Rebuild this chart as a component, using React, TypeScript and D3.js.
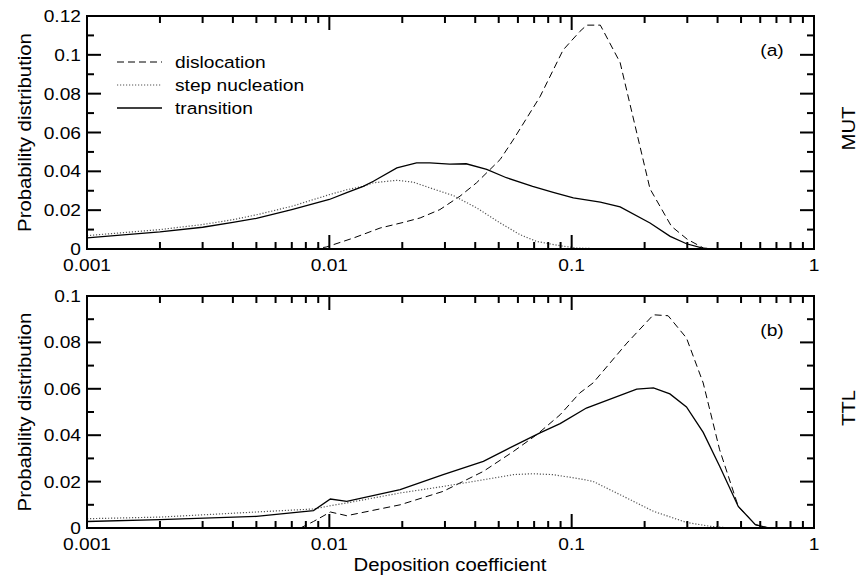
import * as d3 from 'd3';

// MUT panel (a): [deposition coefficient, probability]
const mutDislocation: [number, number][] = [
  [0.0085, 0], [0.0097, 0.001], [0.0126, 0.0057], [0.0162, 0.0108], [0.0202, 0.0137],
  [0.0237, 0.016], [0.0286, 0.0203], [0.0346, 0.0272], [0.0405, 0.0341], [0.0507, 0.0461],
  [0.0573, 0.0561], [0.074, 0.0784], [0.0922, 0.1025], [0.108, 0.112], [0.1154, 0.1153],
  [0.1313, 0.1153], [0.1585, 0.096], [0.2105, 0.031], [0.258, 0.0117], [0.3, 0.005],
  [0.35, 0.0005], [0.4, 0],
];
const mutStep: [number, number][] = [
  [0.001, 0.0069], [0.002, 0.01], [0.003, 0.0126], [0.004, 0.0151], [0.005, 0.0176],
  [0.007, 0.022], [0.01, 0.028], [0.0118, 0.0305], [0.0138, 0.0323], [0.0152, 0.0341],
  [0.019, 0.0354], [0.0222, 0.0344], [0.026, 0.0315], [0.0325, 0.0275], [0.0405, 0.0212],
  [0.0507, 0.0134], [0.0612, 0.0074], [0.0717, 0.0039], [0.0893, 0.0017], [0.105, 0.0005],
  [0.13, 0.0001], [0.15, 0],
];
const mutTransition: [number, number][] = [
  [0.001, 0.0057], [0.002, 0.0088], [0.003, 0.0112], [0.004, 0.0137], [0.005, 0.0158],
  [0.007, 0.0203], [0.01, 0.0255], [0.0118, 0.029], [0.0138, 0.0323], [0.0152, 0.0349],
  [0.019, 0.0418], [0.0229, 0.0444], [0.026, 0.0444], [0.0314, 0.0437], [0.0367, 0.0439],
  [0.0446, 0.041], [0.0538, 0.0367], [0.069, 0.0323], [0.0839, 0.0292], [0.1016, 0.0263],
  [0.1313, 0.0241], [0.1585, 0.0217], [0.2105, 0.0134], [0.255, 0.0065], [0.2977, 0.0027],
  [0.35, 0.0003], [0.4, 0],
];

// TTL panel (b)
const ttlDislocation: [number, number][] = [
  [0.0076, 0], [0.0086, 0.0028], [0.0101, 0.0069], [0.0118, 0.0053], [0.0196, 0.01],
  [0.0295, 0.0158], [0.0432, 0.0244], [0.0575, 0.033], [0.0717, 0.0402], [0.0896, 0.0488],
  [0.108, 0.0582], [0.1225, 0.0625], [0.169, 0.0797], [0.2175, 0.0919], [0.25, 0.0915],
  [0.2977, 0.0819], [0.349, 0.0625], [0.408, 0.0337], [0.487, 0.0093], [0.573, 0.0014],
  [0.65, 0],
];
const ttlStep: [number, number][] = [
  [0.001, 0.004], [0.002, 0.0047], [0.005, 0.0069], [0.0086, 0.0082], [0.0101, 0.0096],
  [0.0118, 0.0108], [0.0196, 0.0151], [0.0295, 0.0179], [0.0432, 0.0208], [0.0575, 0.023],
  [0.069, 0.0234], [0.0839, 0.023], [0.108, 0.0212], [0.1225, 0.0201], [0.169, 0.0129],
  [0.2175, 0.0072], [0.2977, 0.0024], [0.375, 0.0007], [0.45, 0],
];
const ttlTransition: [number, number][] = [
  [0.001, 0.0028], [0.002, 0.0036], [0.005, 0.005], [0.0086, 0.0075], [0.0101, 0.0125],
  [0.0118, 0.0115], [0.0196, 0.0165], [0.0295, 0.023], [0.0432, 0.0287], [0.0538, 0.0338],
  [0.074, 0.041], [0.0896, 0.045], [0.115, 0.0517], [0.1855, 0.0599], [0.2175, 0.0604],
  [0.2543, 0.0578], [0.2977, 0.0522], [0.349, 0.0412], [0.408, 0.0266], [0.487, 0.0093],
  [0.573, 0.0014], [0.65, 0],
];

const xTickValues = [0.001, 0.01, 0.1, 1];
const xTickLabels = ['0.001', '0.01', '0.1', '1'];
const mutYTicks = [0, 0.02, 0.04, 0.06, 0.08, 0.1, 0.12];
const ttlYTicks = [0, 0.02, 0.04, 0.06, 0.08, 0.1];
const legendNames = ['dislocation', 'step nucleation', 'transition'];

const FONT = '"Liberation Sans", Arial, Helvetica, sans-serif';
const STRETCH = 1.13;

const styles = [
  { stroke: '#000', width: 1, dash: '7,4' },
  { stroke: '#555', width: 1.2, dash: '1.2,1.8' },
  { stroke: '#000', width: 1.3, dash: undefined as string | undefined },
];

function Txt({ x, y, size = 17, anchor = 'middle', rotate = 0, children }: any) {
  return (
    <text
      transform={`translate(${x},${y}) rotate(${rotate}) scale(${STRETCH},1)`}
      fontSize={size}
      textAnchor={anchor}
      fontFamily={FONT}
      fill="#000"
    >
      {children}
    </text>
  );
}

const left = 87;
const right = 814;
const x = d3.scaleLog().domain([0.001, 1]).range([left, right]);

function Panel({ top, bottom, yMax, yTicks, series, tag, side, legend }: any) {
  const y = d3.scaleLinear().domain([0, yMax]).range([bottom, top]);
  const line = d3.line<[number, number]>().x(d => x(d[0])).y(d => y(d[1]));
  const minorX: number[] = [];
  for (let dec = 0.001; dec < 1; dec *= 10) {
    for (let k = 2; k <= 9; k++) minorX.push(dec * k);
  }
  const minorY: number[] = [];
  for (let i = 0; i < yTicks.length - 1; i++) minorY.push((yTicks[i] + yTicks[i + 1]) / 2);
  const major = 14;
  const minor = 7;
  const tickStyle = { stroke: '#000', strokeWidth: 2 };
  return (
    <g>
      {series.map((s: [number, number][], i: number) => (
        <path key={i} d={line(s) || ''} fill="none" stroke={styles[i].stroke}
          strokeWidth={styles[i].width} strokeDasharray={styles[i].dash} />
      ))}
      {xTickValues.map(v => (
        <g key={'xm' + v}>
          <line x1={x(v)} x2={x(v)} y1={bottom} y2={bottom - major} {...tickStyle} />
          <line x1={x(v)} x2={x(v)} y1={top} y2={top + major} {...tickStyle} />
        </g>
      ))}
      {minorX.map(v => (
        <g key={'xn' + v}>
          <line x1={x(v)} x2={x(v)} y1={bottom} y2={bottom - minor} {...tickStyle} />
          <line x1={x(v)} x2={x(v)} y1={top} y2={top + minor} {...tickStyle} />
        </g>
      ))}
      {yTicks.map((v: number) => (
        <g key={'ym' + v}>
          <line x1={left} x2={left + major} y1={y(v)} y2={y(v)} {...tickStyle} />
          <line x1={right} x2={right - major} y1={y(v)} y2={y(v)} {...tickStyle} />
        </g>
      ))}
      {minorY.map(v => (
        <g key={'yn' + v}>
          <line x1={left} x2={left + minor} y1={y(v)} y2={y(v)} {...tickStyle} />
          <line x1={right} x2={right - minor} y1={y(v)} y2={y(v)} {...tickStyle} />
        </g>
      ))}
      <rect x={left} y={top} width={right - left} height={bottom - top} fill="none" stroke="#000" strokeWidth={2} />
      {yTicks.map((v: number) => (
        <Txt key={'yl' + v} x={81} y={y(v) + 6} anchor="end">{String(+v.toFixed(2))}</Txt>
      ))}
      {xTickValues.map((v, i) => (
        <Txt key={'xl' + v} x={x(v)} y={bottom + 22}>{xTickLabels[i]}</Txt>
      ))}
      <Txt x={31} y={(top + bottom) / 2} size={18} rotate={-90}>Probability distribution</Txt>
      <Txt x={855} y={(top + bottom) / 2 - 4} size={18} rotate={-90}>{side}</Txt>
      <Txt x={772} y={top + 40} anchor="middle">{tag}</Txt>
      {legend && legendNames.map((name, i) => {
        const ly = 62 + i * 23;
        return (
          <g key={name}>
            <line x1={117} x2={162} y1={ly} y2={ly} stroke={styles[i].stroke}
              strokeWidth={styles[i].width} strokeDasharray={styles[i].dash} />
            <Txt x={175} y={ly + 6} anchor="start">{name}</Txt>
          </g>
        );
      })}
    </g>
  );
}

export default function App() {
  return (
    <svg width={862} height={581} style={{ position: 'absolute', left: 0, top: 0, background: '#fff' }}>
      <Panel top={16} bottom={249} yMax={0.12} yTicks={mutYTicks}
        series={[mutDislocation, mutStep, mutTransition]} tag="(a)" side="MUT" legend />
      <Panel top={296} bottom={528} yMax={0.1} yTicks={ttlYTicks}
        series={[ttlDislocation, ttlStep, ttlTransition]} tag="(b)" side="TTL" />
      <Txt x={450} y={571} size={18}>Deposition coefficient</Txt>
    </svg>
  );
}
